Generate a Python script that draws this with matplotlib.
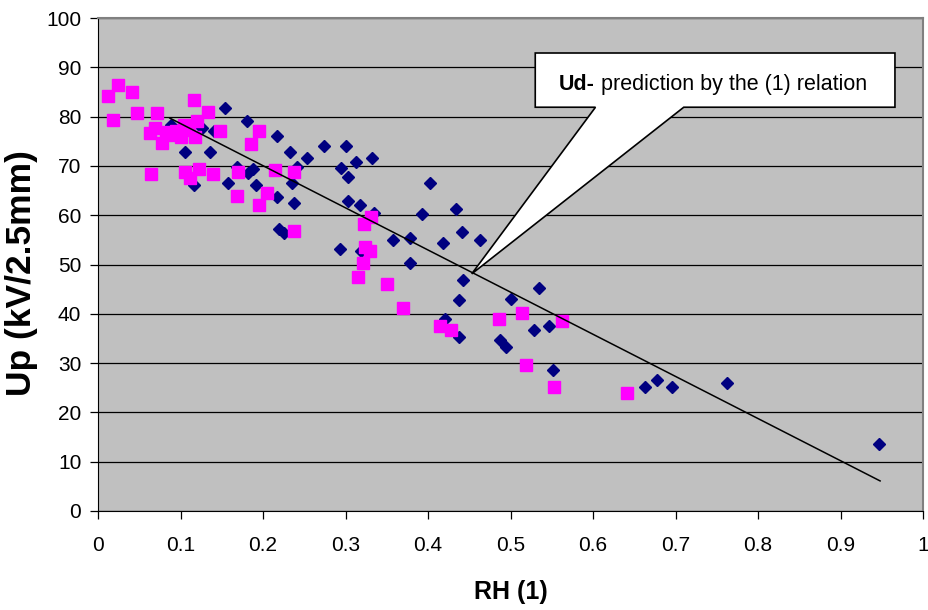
import matplotlib.pyplot as plt
from matplotlib.patches import Polygon

plt.rcParams['font.family'] = ['Liberation Sans', 'DejaVu Sans']

# measured series (diamonds)
rh_meas = [0.088, 0.106, 0.116, 0.126, 0.136, 0.141, 0.154, 0.158, 0.168, 0.180,
           0.182, 0.188, 0.192, 0.217, 0.217, 0.219, 0.226, 0.233, 0.235, 0.238,
           0.241, 0.253, 0.274, 0.293, 0.295, 0.301, 0.303, 0.303, 0.313, 0.317,
           0.319, 0.332, 0.334, 0.358, 0.378, 0.378, 0.393, 0.403, 0.418, 0.421,
           0.434, 0.438, 0.438, 0.441, 0.443, 0.463, 0.487, 0.495, 0.501, 0.528,
           0.534, 0.547, 0.551, 0.663, 0.677, 0.696, 0.763, 0.947]
up_meas = [78.3, 72.9, 66.1, 77.6, 72.9, 77.1, 81.8, 66.6, 69.8, 79.2,
           68.5, 69.3, 66.1, 76.1, 63.6, 57.1, 56.4, 72.9, 66.5, 62.4,
           69.7, 71.7, 74.0, 53.1, 69.5, 74.0, 67.7, 62.9, 70.7, 62.1,
           52.8, 71.7, 60.4, 55.0, 55.3, 50.4, 60.2, 66.6, 54.3, 38.9,
           61.3, 42.7, 35.2, 56.5, 46.9, 55.0, 34.7, 33.3, 43.0, 36.7,
           45.3, 37.5, 28.5, 25.1, 26.6, 25.1, 25.9, 13.6]

# second series (squares)
rh_sq = [0.0125, 0.0246, 0.041, 0.047, 0.0185, 0.072, 0.064, 0.063, 0.069, 0.077,
         0.083, 0.089, 0.095, 0.100, 0.110, 0.117, 0.104, 0.116, 0.120, 0.133,
         0.1475, 0.106, 0.111, 0.122, 0.139, 0.170, 0.168, 0.185, 0.195, 0.195,
         0.205, 0.215, 0.238, 0.237, 0.315, 0.321, 0.322, 0.324, 0.330, 0.331,
         0.350, 0.370, 0.414, 0.428, 0.486, 0.514, 0.519, 0.553, 0.563, 0.641]
up_sq = [84.1, 86.4, 84.9, 80.8, 79.3, 80.8, 68.4, 76.6, 77.6, 74.6,
         76.8, 76.3, 77.0, 75.9, 77.3, 75.9, 78.3, 83.4, 79.2, 81.0,
         77.1, 68.8, 67.5, 69.3, 68.4, 68.8, 63.9, 74.4, 77.1, 62.1,
         64.6, 69.2, 68.8, 56.8, 47.5, 50.4, 58.2, 53.5, 52.7, 59.7,
         46.0, 41.1, 37.5, 36.7, 38.9, 40.1, 29.6, 25.1, 38.5, 24.0]

# prediction by relation (1)
rh_pred = [0.087, 0.948]
ud_pred = [79.7, 6.1]

x_ticks = [0, 0.1, 0.2, 0.3, 0.4, 0.5, 0.6, 0.7, 0.8, 0.9, 1]
x_labels = ['0', '0.1', '0.2', '0.3', '0.4', '0.5', '0.6', '0.7', '0.8', '0.9', '1']
y_ticks = list(range(0, 101, 10))

fig = plt.figure(figsize=(9.29, 6.10), dpi=100)
ax = fig.add_axes([98 / 929, 1 - 511 / 610, 825 / 929, 493 / 610])
ax.set_facecolor('#c0c0c0')

ax.plot(rh_meas, up_meas, linestyle='none', marker='D', markersize=6.6,
        color='#000080', zorder=3)
ax.plot(rh_sq, up_sq, linestyle='none', marker='s', markersize=8.2,
        color='#ff00ff', zorder=4)
ax.plot(rh_pred, ud_pred, color='black', linewidth=1.1, zorder=5)

ax.set_xlim(0, 1)
ax.set_ylim(0, 100)
ax.set_xticks(x_ticks)
ax.set_xticklabels(x_labels)
ax.set_yticks(y_ticks)
ax.yaxis.grid(True, color='black', linewidth=0.9)
ax.set_axisbelow(True)
ax.tick_params(axis='both', direction='out', length=6, width=0.9, labelsize=15)
ax.tick_params(axis='x', pad=12)
ax.tick_params(axis='y', pad=6)
for side in ['left', 'bottom']:
    ax.spines[side].set_color('black')
for side in ['top', 'right']:
    ax.spines[side].set_color('#808080')
    ax.spines[side].set_linewidth(1.5)

ax.set_xlabel('RH (1)', fontsize=18, fontweight='bold', labelpad=18)
ax.set_ylabel('Up (kV/2.5mm)', fontsize=25.5, fontweight='bold')
ax.yaxis.set_label_coords(-0.073, 0.483)

# callout box pointing to the prediction line
box_l, box_r, box_t, box_b = 0.53, 0.966, 92.9, 81.9
tip = (0.453, 48.1)
base_l, base_r = 0.603, 0.710
callout = Polygon([(box_l, box_t), (box_r, box_t), (box_r, box_b), (base_r, box_b),
                   tip, (base_l, box_b), (box_l, box_b)],
                  closed=True, facecolor='white', edgecolor='black', linewidth=1.2,
                  zorder=6)
ax.add_patch(callout)
t1 = ax.text(0.5587, 85.3, 'Ud-', fontsize=15.5, fontweight='bold', va='baseline',
             ha='left', zorder=7)
ax.annotate(' prediction by the (1) relation', xy=(1, 0), xycoords=t1,
            fontsize=15.5, va='bottom', ha='left', zorder=7)

fig.savefig('out.png', dpi=100)
